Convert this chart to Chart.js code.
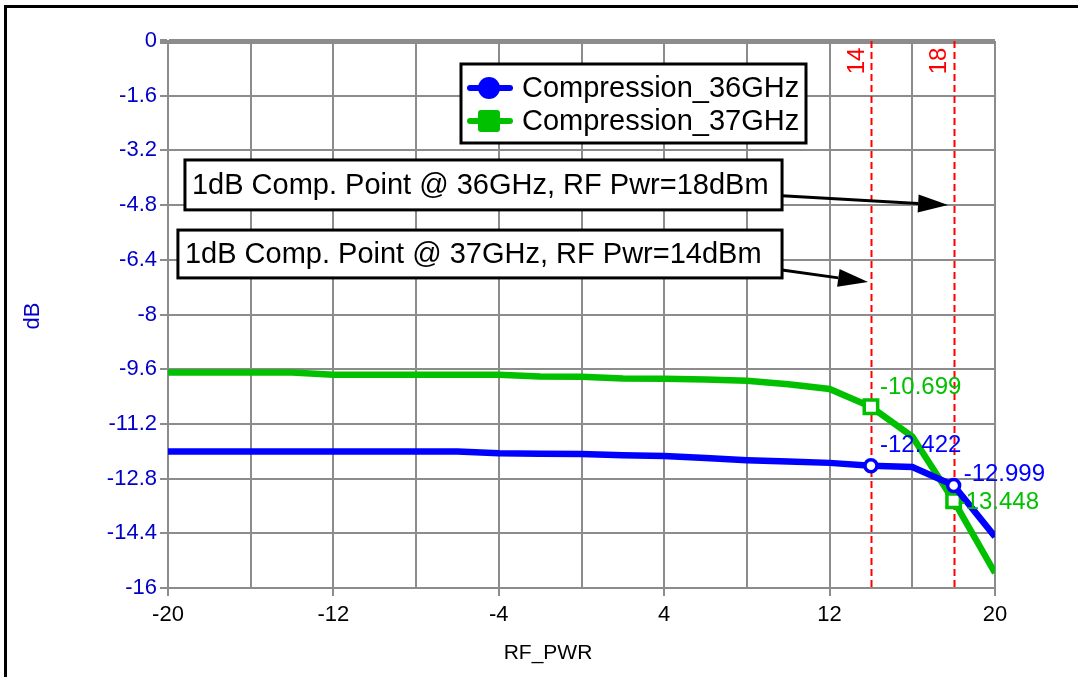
<!DOCTYPE html>
<html>
<head>
<meta charset="utf-8">
<style>
  html, body { margin: 0; padding: 0; background: #fff; }
  canvas { display: block; }
</style>
<script src="https://cdn.jsdelivr.net/npm/chart.js@4.4.1/dist/chart.umd.min.js"></script>
</head>
<body>
<canvas id="chart" width="1078" height="677"></canvas>
<script>
// data
const rfPwr = [-20, -18, -16, -14, -12, -10, -8, -6, -4, -2, 0, 2, 4, 6, 8, 10, 12, 14, 16, 18, 20];
const comp36 = [-12.01, -12.01, -12.01, -12.01, -12.01, -12.01, -12.01, -12.01, -12.06, -12.07, -12.08,
  -12.12, -12.14, -12.2, -12.26, -12.3, -12.34, -12.422, -12.46, -12.999, -14.5];
const comp37 = [-9.7, -9.7, -9.7, -9.7, -9.76, -9.76, -9.76, -9.76, -9.76, -9.81, -9.82,
  -9.87, -9.88, -9.9, -9.94, -10.04, -10.18, -10.699, -11.57, -13.448, -15.56];
const seriesNames = ['Compression_36GHz', 'Compression_37GHz'];
const markerX = [14, 18];
const xGrid = [-20, -16, -12, -8, -4, 0, 4, 8, 12, 16, 20];
const xLabels = [-20, -12, -4, 4, 12, 20];
const yTicks = [0, -1.6, -3.2, -4.8, -6.4, -8, -9.6, -11.2, -12.8, -14.4, -16];
const notes = [
  '1dB Comp. Point @ 36GHz, RF Pwr=18dBm',
  '1dB Comp. Point @ 37GHz, RF Pwr=14dBm'
];

const FONT = '"Liberation Sans", Arial, sans-serif';
const GRID = '#8c8c8c';
const BLUE = '#0000ff';
const GREEN = '#00c000';

// annotation boxes + arrows, in axis units
const noteBoxes = [
  { x0: -19.18, x1: 9.7, y0: -3.48, y1: -4.94, from: [9.7, -4.53], to: [17.73, -4.8] },
  { x0: -19.52, x1: 9.7, y0: -5.53, y1: -6.93, from: [9.7, -6.7], to: [13.86, -7.05] }
];
// marker label offsets (px) per dataset, per marker
const labelOffsets = [
  [[9, -20], [10, -11]],
  [[9, -19], [4, 2]]
];

const frame = {
  id: 'frame',
  beforeDraw(chart) {
    const c = chart.ctx;
    c.save();
    c.fillStyle = '#fff';
    c.fillRect(0, 0, chart.width, chart.height);
    c.strokeStyle = '#000';
    c.lineWidth = 3;
    c.beginPath();
    c.moveTo(5.5, chart.height + 5);
    c.lineTo(5.5, 6.5);
    c.lineTo(chart.width + 5, 6.5);
    c.stroke();
    c.restore();
  }
};

const markers = {
  id: 'markers',
  beforeDatasetsDraw(chart) {
    const c = chart.ctx, xs = chart.scales.x, area = chart.chartArea;
    c.save();
    c.strokeStyle = '#ff0000';
    c.lineWidth = 2;
    c.setLineDash([7, 4]);
    markerX.forEach(v => {
      const px = Math.round(xs.getPixelForValue(v)) + 0.5;
      c.beginPath();
      c.moveTo(px, area.top);
      c.lineTo(px, area.bottom);
      c.stroke();
    });
    c.setLineDash([]);
    c.fillStyle = '#ff0000';
    c.font = '24px ' + FONT;
    c.textAlign = 'center';
    c.textBaseline = 'middle';
    markerX.forEach(v => {
      const px = xs.getPixelForValue(v);
      c.save();
      c.translate(px - 14, area.top + 20);
      c.rotate(-Math.PI / 2);
      c.fillText(String(v), 0, 0);
      c.restore();
    });
    c.restore();
  },
  afterDatasetsDraw(chart) {
    const c = chart.ctx, xs = chart.scales.x, ys = chart.scales.y;
    c.save();
    // values at the markers
    c.font = '24px ' + FONT;
    c.textAlign = 'left';
    c.textBaseline = 'middle';
    chart.data.datasets.forEach((ds, di) => {
      c.fillStyle = ds.borderColor;
      markerX.forEach((mx, mi) => {
        const pt = ds.data.find(p => p.x === mx);
        const off = labelOffsets[di][mi];
        c.fillText(pt.y.toFixed(3), xs.getPixelForValue(pt.x) + off[0], ys.getPixelForValue(pt.y) + off[1]);
      });
    });

    // annotation boxes and arrows
    noteBoxes.forEach((b, i) => {
      const l = xs.getPixelForValue(b.x0), r = xs.getPixelForValue(b.x1);
      const t = ys.getPixelForValue(b.y0), btm = ys.getPixelForValue(b.y1);
      c.fillStyle = '#fff';
      c.fillRect(l, t, r - l, btm - t);
      c.strokeStyle = '#000';
      c.lineWidth = 3;
      c.strokeRect(l, t, r - l, btm - t);
      c.fillStyle = '#000';
      c.font = '29px ' + FONT;
      c.fillText(notes[i], l + 7, (t + btm) / 2 + 1);

      const fx = xs.getPixelForValue(b.from[0]), fy = ys.getPixelForValue(b.from[1]);
      const tx = xs.getPixelForValue(b.to[0]), ty = ys.getPixelForValue(b.to[1]);
      const ang = Math.atan2(ty - fy, tx - fx);
      const hl = 30, hw = 9;
      const bx = tx - hl * Math.cos(ang), by = ty - hl * Math.sin(ang);
      c.beginPath();
      c.moveTo(fx, fy);
      c.lineTo(bx, by);
      c.stroke();
      c.beginPath();
      c.moveTo(tx, ty);
      c.lineTo(bx + hw * Math.sin(ang), by - hw * Math.cos(ang));
      c.lineTo(bx - hw * Math.sin(ang), by + hw * Math.cos(ang));
      c.closePath();
      c.fill();
    });

    // legend box
    const lx = 461, ly = 64, lw = 345, lh = 79;
    c.fillStyle = '#fff';
    c.fillRect(lx, ly, lw, lh);
    c.strokeStyle = '#000';
    c.lineWidth = 3;
    c.strokeRect(lx, ly, lw, lh);
    chart.data.datasets.forEach((ds, i) => {
      const cy = ly + 24 + i * 33;
      c.strokeStyle = ds.borderColor;
      c.fillStyle = ds.borderColor;
      c.lineWidth = 6;
      c.lineCap = 'round';
      c.beginPath();
      c.moveTo(lx + 9, cy);
      c.lineTo(lx + 49, cy);
      c.stroke();
      c.beginPath();
      if (ds.pointStyle === 'rect') {
        c.roundRect(lx + 17, cy - 11, 22, 22, 3);
      } else {
        c.arc(lx + 28, cy, 11, 0, Math.PI * 2);
      }
      c.fill();
      c.fillStyle = '#000';
      c.font = '29px ' + FONT;
      c.fillText(ds.label, lx + 61, cy + 1);
    });

    // axis titles
    c.fillStyle = '#000';
    c.font = '21px ' + FONT;
    c.textAlign = 'center';
    c.fillText('RF_PWR', 548, 653);
    c.save();
    c.fillStyle = '#0000c8';
    c.font = '22px ' + FONT;
    c.translate(33, 316);
    c.rotate(-Math.PI / 2);
    c.fillText('dB', 0, 0);
    c.restore();
    c.restore();
  }
};

const pointR = r => ctx => (ctx.raw && markerX.includes(ctx.raw.x) ? r : 0);

new Chart(document.getElementById('chart'), {
  type: 'line',
  data: {
    datasets: [
      {
        label: seriesNames[0],
        data: rfPwr.map((x, i) => ({ x, y: comp36[i] })),
        borderColor: BLUE,
        borderWidth: 6.5,
        pointStyle: 'circle',
        pointRadius: pointR(6),
        pointBackgroundColor: '#fff',
        pointBorderColor: BLUE,
        pointBorderWidth: 3.5,
        tension: 0
      },
      {
        label: seriesNames[1],
        data: rfPwr.map((x, i) => ({ x, y: comp37[i] })),
        borderColor: GREEN,
        borderWidth: 6.5,
        pointStyle: 'rect',
        pointRadius: pointR(9.5),
        pointBackgroundColor: '#fff',
        pointBorderColor: GREEN,
        pointBorderWidth: 3.5,
        tension: 0
      }
    ]
  },
  options: {
    responsive: false,
    animation: false,
    devicePixelRatio: 1,
    layout: { padding: { left: 0, top: 41, right: 83, bottom: 0 } },
    plugins: { legend: { display: false }, tooltip: { enabled: false } },
    scales: {
      x: {
        type: 'linear',
        min: -20,
        max: 20,
        afterBuildTicks: s => { s.ticks = xGrid.map(v => ({ value: v })); },
        afterFit: s => { s.height = 89; },
        ticks: {
          autoSkip: false,
          maxRotation: 0,
          padding: 6,
          color: '#000',
          font: { family: FONT, size: 22 },
          callback: v => (xLabels.includes(v) ? String(v) : '')
        },
        grid: {
          color: GRID,
          lineWidth: 2,
          tickLength: 8,
          tickColor: ctx => (ctx.tick && xLabels.includes(ctx.tick.value) ? GRID : 'rgba(0,0,0,0)')
        },
        border: { color: GRID, width: 2 }
      },
      y: {
        min: -16,
        max: 0,
        afterBuildTicks: s => { s.ticks = yTicks.map(v => ({ value: v })); },
        afterFit: s => { s.width = 168; },
        ticks: {
          padding: 3,
          color: '#0000c8',
          font: { family: FONT, size: 22 },
          callback: v => String(v)
        },
        grid: {
          color: GRID,
          lineWidth: ctx => (ctx.tick && ctx.tick.value === 0 ? 5 : 2),
          tickLength: 8
        },
        border: { color: GRID, width: 2 }
      }
    }
  },
  plugins: [frame, markers]
});
</script>
</body>
</html>
